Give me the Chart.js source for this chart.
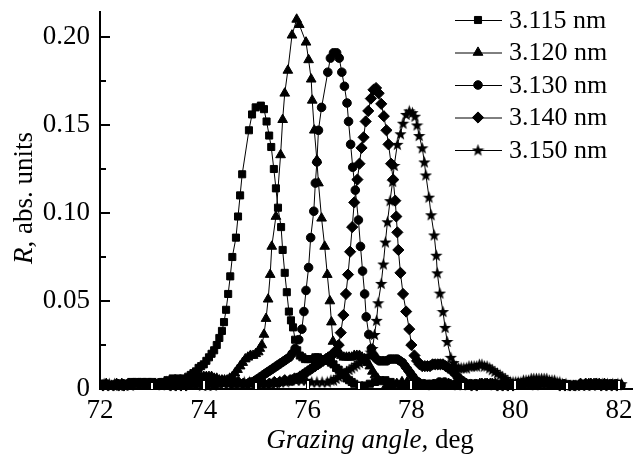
<!DOCTYPE html>
<html><head><meta charset="utf-8">
<script src="https://cdn.jsdelivr.net/npm/chart.js@4"></script>
<style>html,body{margin:0;padding:0;background:#fff}canvas{display:block}</style>
</head><body>
<canvas id="c" width="639" height="457"></canvas>
<script>
const seriesNames = ['3.115 nm', '3.120 nm', '3.130 nm', '3.140 nm', '3.150 nm'];
const xTickLabels = ['72', '74', '76', '78', '80', '82'];
const yTickLabels = ['0', '0.05', '0.10', '0.15', '0.20'];

// [grazing angle (deg), R (abs. units)]
const series3115 = [[72.0,.003],[72.1,.003],[72.2,.002],[72.3,.002],[72.4,.003],[72.5,.003],[72.6,.004],[72.7,.004],[72.8,.004],[72.9,.004],
[73.0,.004],[73.1,.003],[73.2,.004],[73.3,.005],[73.4,.006],[73.5,.006],[73.6,.006],[73.7,.007],
[73.75,.008],[73.8,.009],[73.85,.010],[73.9,.012],[73.95,.013],[74.0,.014],[74.05,.016],[74.1,.018],[74.15,.020],[74.2,.022],[74.25,.025],[74.3,.029],[74.35,.033],
[74.39,.038],[74.43,.045],[74.47,.054],[74.51,.064],[74.55,.075],[74.62,.086],[74.66,.098],[74.70,.110],[74.74,.122],[74.87,.147],[74.93,.156],[75.0,.160],[75.1,.161],[75.16,.159],[75.21,.152],[75.26,.144],[75.30,.1375],[75.35,.125],[75.39,.114],[75.43,.103],[75.49,.092],[75.52,.079],[75.56,.066],[75.60,.055],[75.64,.044],[75.68,.039],[75.72,.035],[75.76,.028],
[75.80,.022],[75.85,.019],[75.90,.018],[75.95,.017],[76.0,.017],[76.05,.017],[76.1,.017],[76.15,.018],[76.2,.018],[76.25,.017],[76.3,.017],[76.35,.016],[76.4,.016],[76.45,.015],[76.5,.014],[76.55,.012],[76.6,.011],[76.65,.009],[76.7,.008],[76.75,.006],[76.8,.005],[76.85,.004],[76.9,.003],
[77.0,.002],[77.1,.002],[77.2,.003],[77.3,.004],[77.4,.005],[77.5,.005],[77.6,.004],[77.7,.003],[77.8,.002],[77.9,.002],[78.0,.002],[78.1,.003],[78.2,.003],[78.3,.003],[78.4,.003],[78.5,.002],[78.6,.002],[78.7,.002],[78.8,.002],[78.9,.003],
[79.0,.003],[79.1,.003],[79.2,.003],[79.3,.003],[79.4,.002],[79.5,.002],[79.6,.002],[79.7,.003],[79.8,.003],[79.9,.002],[80.0,.002],[80.1,.003],[80.2,.003],[80.3,.004],[80.4,.004],[80.5,.004],[80.6,.003],[80.7,.003],[80.8,.002],[80.9,.002],
[81.0,.002],[81.1,.002],[81.2,.002],[81.3,.003],[81.4,.003],[81.5,.003],[81.6,.003],[81.7,.002],[81.8,.003],[81.9,.003],[82.0,.003]];

const series3120 = [[72.02,.002],[72.12,.003],[72.22,.002],[72.32,.003],[72.42,.003],[72.52,.002],[72.62,.003],[72.72,.003],[72.82,.003],[72.92,.002],[73.02,.002],[73.12,.003],[73.22,.003],[73.32,.003],[73.42,.003],[73.52,.004],
[73.6,.004],[73.65,.004],[73.7,.005],[73.75,.005],[73.8,.006],[73.85,.006],[73.9,.007],[73.95,.007],[74.0,.007],[74.05,.007],[74.1,.007],[74.15,.007],[74.2,.006],[74.25,.006],[74.3,.005],[74.35,.005],[74.4,.005],[74.45,.005],[74.5,.006],[74.55,.007],[74.6,.009],[74.65,.011],[74.7,.013],[74.75,.015],[74.8,.017],[74.85,.018],[74.9,.019],[74.95,.019],[75.0,.020],[75.05,.021],[75.08,.023],
[75.12,.025],[75.16,.031],[75.20,.040],[75.24,.051],[75.28,.065],[75.31,.081],[75.39,.098],[75.48,.133],[75.52,.153],[75.56,.168],[75.62,.181],[75.70,.201],[75.79,.210],[75.84,.207],[75.97,.197],[76.02,.187],[76.07,.176],[76.09,.164],[76.13,.147],[76.18,.130],[76.21,.117],[76.27,.097],[76.33,.081],[76.38,.065],[76.43,.050],[76.46,.038],[76.49,.027],
[76.55,.022],[76.6,.020],[76.65,.019],[76.7,.018],[76.75,.018],[76.8,.018],[76.85,.018],[76.9,.019],[76.95,.019],[77.0,.019],[77.05,.018],[77.1,.017],[77.15,.015],[77.2,.013],[77.25,.010],[77.3,.008],[77.35,.006],[77.4,.004],
[77.52,.002],[77.62,.002],[77.72,.003],[77.82,.004],[77.92,.004],[78.02,.003],[78.12,.002],[78.22,.002],[78.32,.002],[78.42,.002],[78.52,.003],[78.62,.003],[78.72,.003],[78.82,.002],[78.92,.002],
[79.02,.002],[79.12,.002],[79.22,.002],[79.32,.003],[79.42,.003],[79.52,.003],[79.62,.003],[79.72,.002],[79.82,.002],[79.92,.002],[80.02,.002],[80.12,.003],[80.22,.003],[80.32,.004],[80.42,.004],[80.52,.003],[80.62,.003],[80.72,.002],[80.82,.002],[80.92,.002],
[81.02,.002],[81.12,.002],[81.22,.002],[81.32,.002],[81.42,.003],[81.52,.003],[81.62,.003],[81.72,.003],[81.82,.002],[81.92,.002],[82.02,.002]];

const series3130 = [[72.04,.002],[72.14,.002],[72.24,.002],[72.34,.003],[72.44,.003],[72.54,.003],[72.64,.003],[72.74,.003],[72.84,.003],[72.94,.003],[73.04,.003],[73.14,.002],[73.24,.002],[73.34,.002],[73.44,.002],[73.54,.003],[73.64,.003],[73.74,.003],[73.84,.003],[73.94,.004],
[74.04,.004],[74.14,.005],[74.24,.005],[74.34,.004],[74.44,.004],[74.54,.003],[74.64,.003],[74.74,.003],[74.84,.003],
[74.9,.004],[74.95,.004],[75.0,.005],[75.05,.006],[75.1,.007],[75.15,.008],[75.2,.009],[75.25,.010],[75.3,.011],[75.35,.012],[75.4,.013],[75.45,.014],[75.5,.015],[75.55,.016],[75.6,.017],[75.65,.018],[75.7,.020],[75.76,.023],
[75.83,.028],[75.89,.034],[75.93,.044],[75.97,.056],[76.02,.069],[76.06,.086],[76.12,.101],[76.15,.117],[76.18,.129],[76.21,.147],[76.27,.160],[76.39,.180],[76.44,.188],[76.5,.191],[76.56,.191],[76.61,.188],[76.66,.180],[76.71,.172],[76.76,.1625],[76.79,.152],[76.83,.139],[76.87,.126],[76.92,.113],[76.98,.096],[77.02,.081],[77.06,.067],[77.10,.054],[77.13,.041],[77.18,.031],[77.23,.023],
[77.28,.019],[77.33,.017],[77.38,.016],[77.43,.016],[77.48,.016],[77.53,.016],[77.58,.017],[77.63,.017],[77.68,.017],[77.73,.017],[77.78,.016],[77.83,.015],[77.88,.013],[77.93,.011],[77.98,.009],[78.03,.007],[78.08,.005],[78.13,.004],
[78.24,.003],[78.34,.002],[78.44,.003],[78.54,.004],[78.64,.004],[78.74,.003],[78.84,.002],[78.94,.002],[79.04,.002],[79.14,.003],[79.24,.003],[79.34,.003],[79.44,.003],[79.54,.002],[79.64,.002],[79.74,.002],[79.84,.002],[79.94,.003],
[80.04,.003],[80.14,.003],[80.24,.003],[80.34,.002],[80.44,.002],[80.54,.003],[80.64,.003],[80.74,.003],[80.84,.003],[80.94,.003],[81.04,.002],[81.14,.002],[81.24,.002],[81.34,.002],[81.44,.002],[81.54,.002],[81.64,.003],[81.74,.003],[81.84,.003],[81.94,.003],[82.04,.002]];

const series3140 = [[72.06,.002],[72.16,.002],[72.26,.002],[72.36,.002],[72.46,.002],[72.56,.003],[72.66,.003],[72.76,.003],[72.86,.003],[72.96,.003],[73.06,.003],[73.16,.003],[73.26,.003],[73.36,.002],[73.46,.002],[73.56,.002],[73.66,.002],[73.76,.003],[73.86,.003],[73.96,.003],
[74.06,.003],[74.16,.003],[74.26,.003],[74.36,.004],[74.46,.004],[74.56,.004],[74.66,.004],[74.76,.003],[74.86,.003],[74.96,.003],[75.06,.003],[75.16,.003],[75.26,.003],[75.36,.004],[75.46,.004],[75.56,.005],[75.66,.005],
[75.7,.005],[75.75,.006],[75.8,.006],[75.85,.007],[75.9,.008],[75.95,.009],[76.0,.010],[76.05,.011],[76.1,.012],[76.15,.013],[76.2,.014],[76.25,.015],[76.3,.016],[76.35,.017],[76.4,.018],[76.45,.019],[76.5,.020],[76.55,.022],
[76.60,.025],[76.64,.032],[76.69,.042],[76.74,.054],[76.78,.065],[76.82,.078],[76.86,.092],[76.90,.106],[76.96,.119],[77.0,.128],[77.04,.137],[77.08,.143],[77.12,.152],[77.17,.158],[77.22,.165],[77.27,.170],[77.32,.171],[77.37,.168],[77.42,.162],[77.47,.155],[77.52,.147],[77.56,.139],[77.61,.128],[77.65,.119],[77.69,.107],[77.71,.098],[77.73,.089],[77.75,.079],[77.79,.066],[77.84,.054],[77.90,.044],[77.96,.034],[78.0,.025],[78.06,.019],
[78.11,.016],[78.16,.014],[78.21,.013],[78.26,.013],[78.31,.013],[78.36,.013],[78.41,.014],[78.46,.014],[78.51,.014],[78.56,.014],[78.61,.014],[78.66,.013],[78.71,.012],[78.76,.011],[78.81,.010],[78.86,.008],[78.91,.006],[78.96,.005],[79.01,.004],
[79.06,.003],[79.16,.002],[79.26,.002],[79.36,.003],[79.46,.003],[79.56,.003],[79.66,.002],[79.76,.002],[79.86,.002],[79.96,.002],[80.06,.003],[80.16,.003],[80.26,.004],[80.36,.004],[80.46,.004],[80.56,.004],[80.66,.003],[80.76,.003],[80.86,.002],[80.96,.002],
[81.06,.002],[81.16,.002],[81.26,.003],[81.36,.003],[81.46,.003],[81.56,.003],[81.66,.002],[81.76,.002],[81.86,.002],[81.96,.002]];

const series3150 = [[72.08,.003],[72.18,.003],[72.28,.003],[72.38,.002],[72.48,.002],[72.58,.002],[72.68,.003],[72.78,.003],[72.88,.003],[72.98,.003],[73.08,.003],[73.18,.003],[73.28,.004],[73.38,.004],[73.48,.004],[73.58,.004],[73.68,.004],[73.78,.003],[73.88,.003],[73.98,.002],
[74.08,.002],[74.18,.002],[74.28,.003],[74.38,.003],[74.48,.003],[74.58,.003],[74.68,.004],[74.78,.004],[74.88,.004],[74.98,.004],[75.08,.003],[75.18,.003],[75.28,.003],[75.38,.003],[75.48,.004],[75.58,.004],[75.68,.005],[75.78,.005],[75.88,.005],[75.98,.005],
[76.08,.004],[76.18,.004],[76.28,.004],[76.38,.004],
[76.45,.005],[76.5,.005],[76.55,.006],[76.6,.007],[76.65,.008],[76.7,.009],[76.75,.010],[76.8,.011],[76.85,.012],[76.9,.013],[76.95,.014],[77.0,.015],[77.05,.016],[77.1,.017],[77.15,.018],
[77.19,.019],[77.22,.021],[77.25,.023],[77.29,.031],[77.33,.039],[77.36,.049],[77.42,.060],[77.46,.071],[77.50,.0835],[77.54,.095],[77.59,.107],[77.64,.118],[77.67,.127],[77.73,.139],[77.79,.145],[77.84,.151],[77.90,.156],[77.96,.158],[78.02,.157],[78.07,.155],[78.11,.150],[78.15,.144],[78.21,.137],[78.25,.129],[78.28,.1216],[78.34,.109],[78.38,.099],[78.44,.0875],[78.48,.076],[78.50,.066],[78.55,.0545],[78.61,.044],[78.65,.035],[78.69,.027],[78.76,.018],
[78.81,.015],[78.86,.013],[78.91,.012],[78.96,.012],[79.01,.012],[79.06,.012],[79.11,.013],[79.16,.013],[79.21,.013],[79.26,.013],[79.31,.014],[79.36,.014],[79.41,.013],[79.46,.013],[79.51,.012],[79.56,.011],[79.61,.010],[79.66,.009],[79.71,.008],[79.76,.007],[79.81,.006],[79.86,.005],[79.91,.004],[79.96,.004],[80.01,.004],
[80.06,.004],[80.11,.004],[80.16,.005],[80.21,.005],[80.26,.005],[80.31,.006],[80.36,.006],[80.41,.006],[80.46,.006],[80.51,.006],[80.56,.006],[80.61,.006],[80.66,.005],[80.71,.005],[80.76,.005],[80.81,.004],[80.86,.004],[80.91,.003],
[80.98,.003],[81.08,.002],[81.18,.002],[81.28,.002],[81.38,.002],[81.48,.002],[81.58,.003],[81.68,.003],[81.78,.003],[81.88,.003],[81.98,.003],[82.05,.003]];

const FONT = "'Liberation Serif','Times New Roman',Times,serif";

function makeStar() {
  const c = document.createElement('canvas');
  c.width = 13; c.height = 13;
  const g = c.getContext('2d');
  g.fillStyle = '#000';
  g.beginPath();
  for (let i = 0; i < 10; i++) {
    const r = i % 2 ? 2.7 : 6.5;
    const a = -Math.PI / 2 + i * Math.PI / 5;
    const px = 6.5 + r * Math.cos(a), py = 7.1 + r * Math.sin(a);
    if (i === 0) g.moveTo(px, py); else g.lineTo(px, py);
  }
  g.closePath();
  g.fill();
  return c;
}
const starImg = makeStar();

const styles = [
  {pointStyle: 'rect', radius: 5},
  {pointStyle: 'triangle', radius: 5.6},
  {pointStyle: 'circle', radius: 4.3},
  {pointStyle: 'rectRot', radius: 5.6},
  {pointStyle: starImg, radius: 5.5}
];
const allSeries = [series3115, series3120, series3130, series3140, series3150];

const datasets = seriesNames.map((name, i) => ({
  label: name,
  data: allSeries[i].map(p => ({x: p[0], y: p[1]})),
  borderColor: '#000',
  backgroundColor: '#000',
  borderWidth: 1,
  pointStyle: styles[i].pointStyle,
  pointRadius: styles[i].radius,
  pointBackgroundColor: '#000',
  pointBorderColor: '#000',
  pointBorderWidth: 1,
  tension: 0,
  fill: false,
  clip: {left: 0, top: 10, right: 10, bottom: 3}
}));

const decor = {
  id: 'decor',
  afterDatasetsDraw(chart) {
    const ctx = chart.ctx, a = chart.chartArea;
    const x = chart.scales.x, y = chart.scales.y;
    ctx.save();
    ctx.strokeStyle = '#000';
    ctx.lineWidth = 2;
    y.ticks.forEach(t => {
      if (t.value <= 1e-9) return;
      const py = Math.round(y.getPixelForValue(t.value));
      const major = t.label !== '';
      const len = major ? 10 : 6;
      ctx.beginPath();
      ctx.moveTo(a.left, py);
      ctx.lineTo(a.left + len, py);
      ctx.stroke();
    });
    x.ticks.forEach(t => {
      if (t.value <= 72 + 1e-9) return;
      const px = Math.round(x.getPixelForValue(t.value));
      const major = t.label !== '';
      const len = major ? 9 : 7;
      ctx.fillStyle = '#fff';
      ctx.fillRect(px - 1.5, a.bottom - len, 3, len);
      ctx.lineWidth = 1;
      ctx.strokeStyle = '#000';
      ctx.strokeRect(px - 1.5, a.bottom - len + 0.5, 3, len);
    });
    ctx.restore();
  },
  afterDraw(chart) {
    const ctx = chart.ctx;
    ctx.save();
    ctx.fillStyle = '#000';
    ctx.strokeStyle = '#000';
    const t1 = 'Grazing angle', t2 = ', deg';
    ctx.font = 'italic 27px ' + FONT;
    const w1 = ctx.measureText(t1).width;
    ctx.font = '27px ' + FONT;
    const w2 = ctx.measureText(t2).width;
    const sx = 370 - (w1 + w2) / 2;
    ctx.textBaseline = 'alphabetic';
    ctx.textAlign = 'left';
    ctx.font = 'italic 27px ' + FONT;
    ctx.fillText(t1, sx, 448);
    ctx.font = '27px ' + FONT;
    ctx.fillText(t2, sx + w1, 448);
    const u1 = 'R', u2 = ', abs. units';
    ctx.font = 'italic 27px ' + FONT;
    const v1 = ctx.measureText(u1).width;
    ctx.font = '27px ' + FONT;
    const v2 = ctx.measureText(u2).width;
    ctx.translate(32, 198);
    ctx.rotate(-Math.PI / 2);
    const st = -(v1 + v2) / 2;
    ctx.font = 'italic 27px ' + FONT;
    ctx.fillText(u1, st, 0);
    ctx.font = '27px ' + FONT;
    ctx.fillText(u2, st + v1, 0);
    ctx.setTransform(1, 0, 0, 1, 0, 0);
    ctx.font = '26px ' + FONT;
    ctx.textBaseline = 'middle';
    const H = Chart.helpers;
    seriesNames.forEach((name, i) => {
      const ry = 20 + i * 32.5;
      ctx.lineWidth = 1;
      ctx.beginPath();
      ctx.moveTo(455, ry + 0.5);
      ctx.lineTo(502, ry + 0.5);
      ctx.stroke();
      const s = styles[i];
      if (H && H.drawPoint) {
        H.drawPoint(ctx, {pointStyle: s.pointStyle, radius: s.radius, rotation: 0, borderWidth: 1}, 478, ry);
      }
      ctx.fillText(name, 509, ry + 1);
    });
    ctx.restore();
  }
};

new Chart(document.getElementById('c'), {
  type: 'line',
  data: {datasets},
  plugins: [decor],
  options: {
    responsive: false,
    animation: false,
    devicePixelRatio: 1,
    layout: {padding: {top: 12, right: 1, left: 0, bottom: 0}},
    plugins: {legend: {display: false}, tooltip: {enabled: false}},
    scales: {
      x: {
        type: 'linear', min: 72, max: 82.26,
        grid: {display: false, drawTicks: false},
        border: {display: true, color: '#000', width: 2},
        ticks: {
          stepSize: 1, autoSkip: false, maxRotation: 0, padding: 6, color: '#000', includeBounds: false,
          font: {family: FONT, size: 27},
          callback: (v) => xTickLabels.includes(String(v)) ? String(v) : ''
        },
        afterBuildTicks: (s) => { s.ticks = s.ticks.filter(t => Math.abs(t.value - Math.round(t.value)) < 1e-6); },
        afterFit: (s) => { s.height = 68; s.paddingLeft = 0; s.paddingRight = 0; }
      },
      y: {
        type: 'linear', min: 0, max: 0.2142,
        grid: {display: false, drawTicks: false},
        border: {display: true, color: '#000', width: 2},
        ticks: {
          stepSize: 0.025, autoSkip: false, padding: 10, color: '#000', includeBounds: false,
          font: {family: FONT, size: 27},
          callback: (v) => { const l = yTickLabels.find(t => Math.abs(parseFloat(t) - v) < 1e-6); return l === undefined ? '' : l; }
        },
        afterBuildTicks: (s) => { s.ticks = s.ticks.filter(t => t.value <= 0.2 + 1e-6); },
        afterFit: (s) => { s.width = 100; s.paddingTop = 0; s.paddingBottom = 0; }
      }
    }
  }
});
</script>
</body></html>
